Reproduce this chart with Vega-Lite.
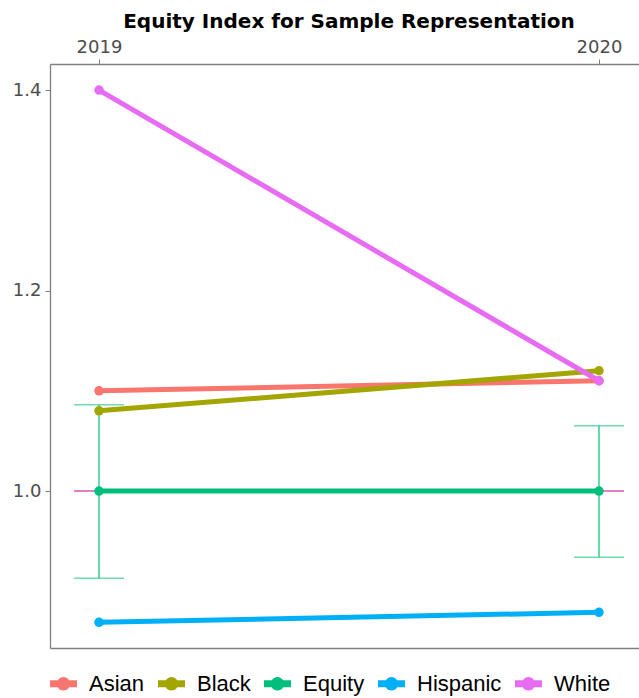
{
  "$schema": "https://vega.github.io/schema/vega-lite/v6.json",
  "width": 589,
  "height": 584,
  "autosize": {"type": "none"},
  "padding": {"left": 50, "top": 64, "right": 0, "bottom": 50},
  "title": {
    "text": "Equity Index for Sample Representation",
    "font": "DejaVu Sans",
    "fontSize": 20,
    "fontWeight": "bold",
    "color": "#000000",
    "anchor": "middle",
    "dx": 4.5,
    "offset": 6
  },
  "config": {
    "view": {"stroke": null},
    "axis": {
      "labelFont": "DejaVu Sans",
      "labelFontSize": 18,
      "labelColor": "#4d4d4d",
      "domainColor": "#7f7f7f",
      "domainWidth": 1.3,
      "tickColor": "#7f7f7f",
      "tickSize": 5,
      "grid": false,
      "title": null
    }
  },
  "datasets": {
    "series": [
      {"group": "Asian", "year": 2019, "value": 1.10},
      {"group": "Asian", "year": 2020, "value": 1.11},
      {"group": "Black", "year": 2019, "value": 1.08},
      {"group": "Black", "year": 2020, "value": 1.12},
      {"group": "Equity", "year": 2019, "value": 1.0},
      {"group": "Equity", "year": 2020, "value": 1.0},
      {"group": "Hispanic", "year": 2019, "value": 0.869},
      {"group": "Hispanic", "year": 2020, "value": 0.879},
      {"group": "White", "year": 2019, "value": 1.40},
      {"group": "White", "year": 2020, "value": 1.11}
    ],
    "err": [
      {"year": 2019, "lo": 0.913, "hi": 1.086},
      {"year": 2020, "lo": 0.934, "hi": 1.065}
    ]
  },
  "layer": [
    {
      "data": {"name": "err"},
      "mark": {"type": "rule", "color": "#e377c2", "strokeWidth": 1.3},
      "encoding": {
        "x": {"datum": 2018.95, "type": "quantitative",
              "scale": {"domain": [2018.902, 2020.08], "nice": false, "zero": false},
              "axis": {"orient": "bottom", "labels": false, "ticks": false, "title": null}},
        "x2": {"datum": 2020.05},
        "y": {"datum": 1.0, "type": "quantitative"}
      }
    },
    {
      "data": {"name": "err"},
      "mark": {"type": "errorbar", "color": "#2fcf8f", "thickness": 1.5, "ticks": {"size": 50, "thickness": 1.5}},
      "encoding": {
        "x": {"field": "year", "type": "quantitative",
              "axis": {"orient": "top", "values": [2019, 2020], "format": "d", "labelPadding": 3, "title": null}},
        "y": {"field": "lo", "type": "quantitative",
              "scale": {"domain": [0.8434, 1.426], "nice": false, "zero": false},
              "axis": {"values": [1.0, 1.2, 1.4], "format": ".1f", "labelPadding": 4, "title": null}},
        "y2": {"field": "hi"}
      }
    },
    {
      "data": {"name": "series"},
      "mark": {"type": "line", "strokeWidth": 5},
      "encoding": {
        "x": {"field": "year", "type": "quantitative", "axis": null},
        "y": {"field": "value", "type": "quantitative"},
        "color": {
          "field": "group", "type": "nominal",
          "scale": {"domain": ["Asian", "Black", "Equity", "Hispanic", "White"],
                    "range": ["#F8766D", "#A3A500", "#00BF7D", "#00B0F6", "#E76BF3"]},
          "legend": {
            "orient": "bottom", "direction": "horizontal", "title": null,
            "labelFont": "Liberation Sans", "labelFontSize": 22, "labelColor": "#000000",
            "symbolType": "M-1,-0.26L-0.42,-0.26A0.48,0.48 0 0,1 0.42,-0.26L1,-0.26L1,0.26L0.42,0.26A0.48,0.48 0 0,1 -0.42,0.26L-1,0.26Z",
            "symbolSize": 729, "symbolStrokeWidth": 0,
            "columnPadding": 13, "labelOffset": 12, "offset": 22,
            "encode": {"symbols": {"update": {"fill": {"scale": "color", "field": "value"}, "fillOpacity": {"value": 1}, "strokeWidth": {"value": 0}}}}
          }
        }
      }
    },
    {
      "data": {"name": "series"},
      "mark": {"type": "point", "filled": true, "size": 90, "opacity": 1},
      "encoding": {
        "x": {"field": "year", "type": "quantitative", "axis": null},
        "y": {"field": "value", "type": "quantitative"},
        "color": {"field": "group", "type": "nominal"}
      }
    }
  ],
  "resolve": {"axis": {"x": "independent"}}
}
